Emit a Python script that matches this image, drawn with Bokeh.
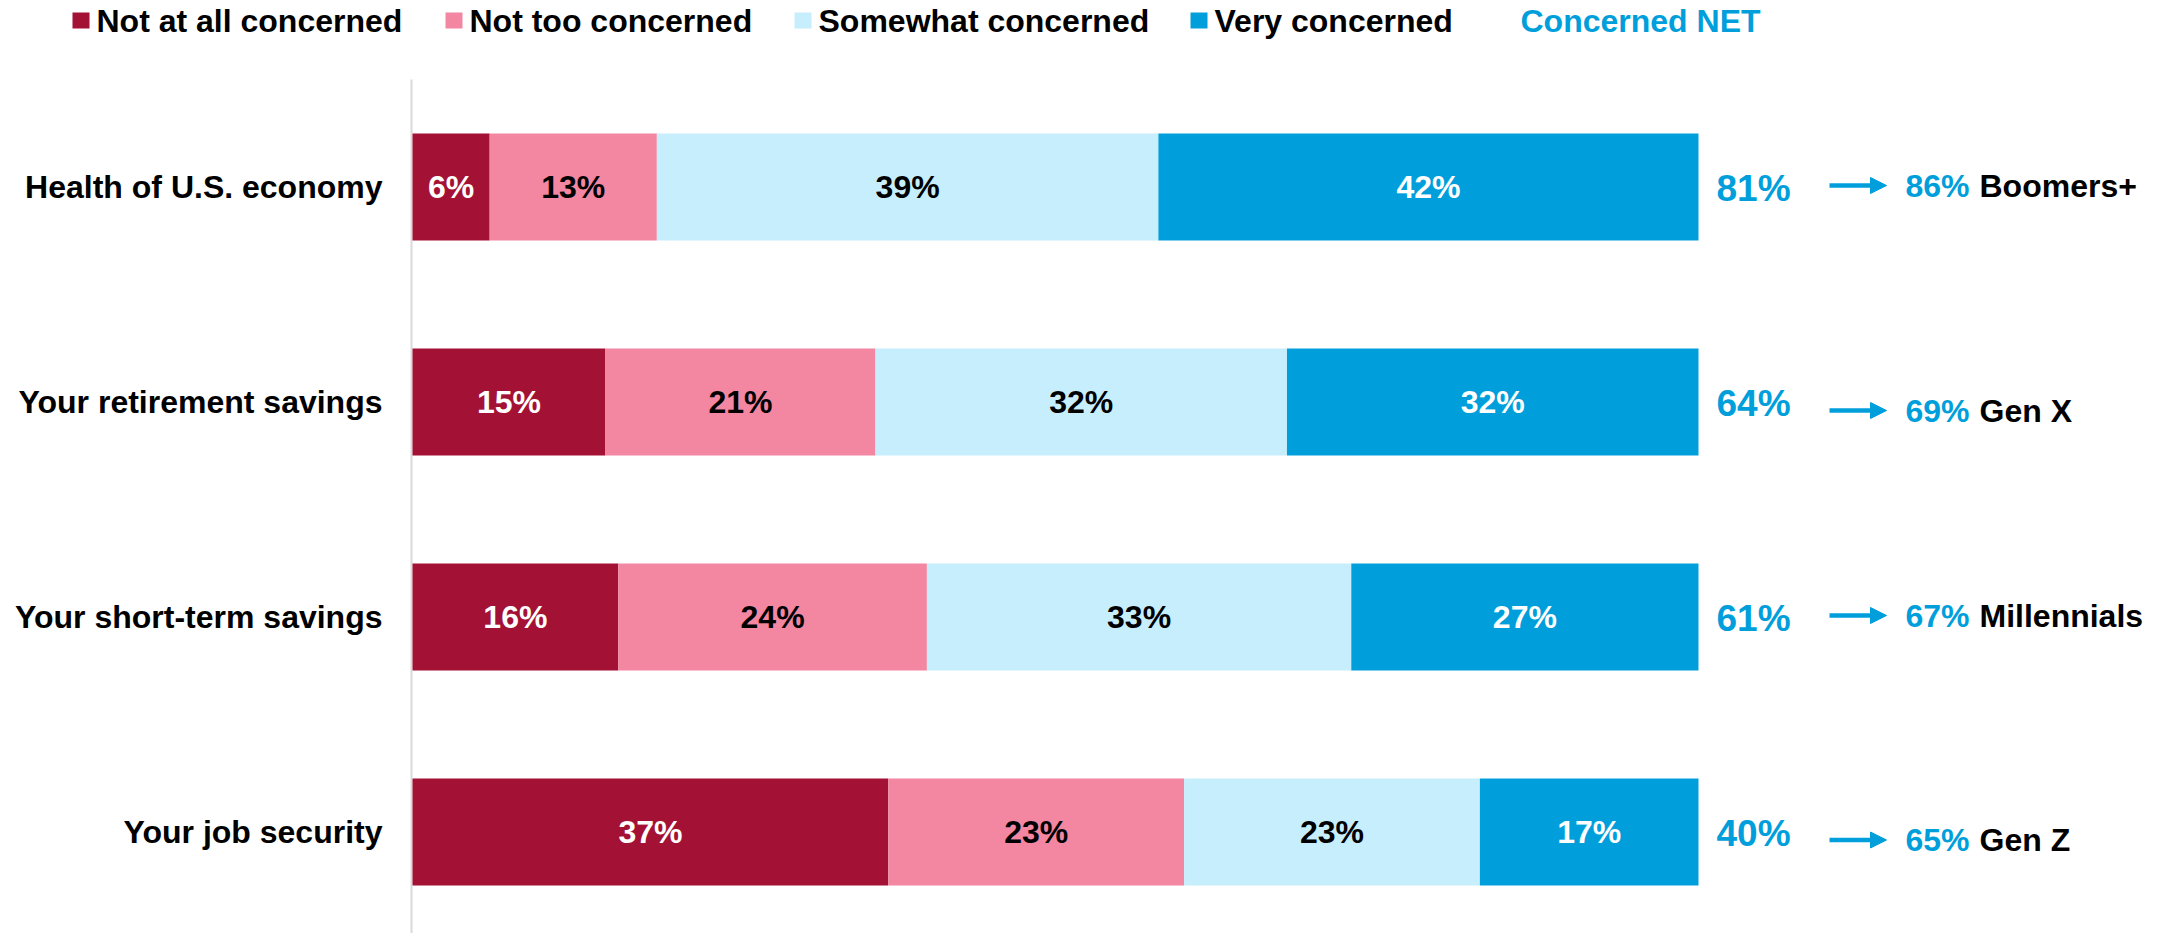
from bokeh.plotting import figure
from bokeh.models import Range1d, ColumnDataSource, Arrow, NormalHead
from bokeh.core.properties import value
from bokeh.embed import file_html
from bokeh.resources import INLINE

# ---------------- data ----------------
categories = ["Health of U.S. economy", "Your retirement savings",
              "Your short-term savings", "Your job security"]
series_names = ["Not at all concerned", "Not too concerned",
                "Somewhat concerned", "Very concerned"]
not_at_all = [6, 15, 16, 37]
not_too = [13, 21, 24, 23]
somewhat = [39, 32, 33, 23]
very = [42, 32, 27, 17]
concerned_net = [81, 64, 61, 40]
generation_net = [86, 69, 67, 65]
generation = ["Boomers+", "Gen X", "Millennials", "Gen Z"]
net_title = "Concerned NET"

# ---------------- style ----------------
colors = ["#A31134", "#F386A1", "#C7EEFC", "#009FDB"]
label_colors = ["white", "black", "black", "white"]
BLUE = "#009FDB"
FONT = value("Liberation Sans")
FS = "32px"

# layout helpers (picture pixels -> data units)
X0, PX_PER_PCT = 412.0, 12.86
Y0, BAND = 79.0, 215.0
W, H = 2170, 933


def xp(px):
    return (px - X0) / PX_PER_PCT


def yp(px):
    return (px - Y0) / BAND


p = figure(width=W, height=H,
           x_range=Range1d(xp(0), xp(W)),
           y_range=Range1d(start=yp(H), end=yp(0)),
           output_backend="svg", toolbar_location=None,
           x_axis_location=None, y_axis_location=None, min_border=0)
p.grid.visible = False
p.outline_line_color = None
p.background_fill_color = "white"

ys = [i + 0.5 for i in range(len(categories))]
series = [not_at_all, not_too, somewhat, very]

# vertical axis line
p.segment(x0=[xp(411)], y0=[0], x1=[xp(411)], y1=[yp(H)],
          line_color="#D9D9D9", line_width=2)

# stacked bars
left = [0] * len(categories)
for k, vals in enumerate(series):
    right = [l + v for l, v in zip(left, vals)]
    src = ColumnDataSource(dict(y=ys, left=left, right=right,
                                mid=[(l + r) / 2 for l, r in zip(left, right)],
                                lab=[f"{v}%" for v in vals]))
    p.hbar(y="y", left="left", right="right", height=0.498, source=src,
           fill_color=colors[k], line_color=None)
    p.text(x="mid", y="y", text="lab", source=src, text_font=FONT,
           text_font_style="bold", text_font_size=FS, text_align="center",
           text_baseline="middle", text_color=label_colors[k])
    left = right

# category labels
p.text(x=[xp(382)] * len(categories), y=ys, text=categories, text_font=FONT,
       text_font_style="bold", text_font_size=FS, text_align="right",
       text_baseline="middle", text_color="black")

# NET values
p.text(x=[xp(1716)] * len(categories), y=[y + 1 / BAND for y in ys],
       text=[f"{v}%" for v in concerned_net], text_font=FONT,
       text_font_style="bold", text_font_size="37px", text_align="left",
       text_baseline="middle", text_color=BLUE)

# arrows + generation values
row_dy = [-1.5, 8.5, -1.5, 8.0]
ay = [y + d / BAND for y, d in zip(ys, row_dy)]
arr_src = ColumnDataSource(dict(xs=[xp(1829)] * len(ay), xe=[xp(1886)] * len(ay),
                                ys=ay, ye=ay))
p.add_layout(Arrow(end=NormalHead(size=16, fill_color=BLUE, line_color=BLUE, line_width=1),
                   x_start="xs", y_start="ys", x_end="xe", y_end="ye",
                   source=arr_src, line_color=BLUE, line_width=4.5))
p.text(x=[xp(1905)] * len(ay), y=ay, text=[f"{v}%" for v in generation_net],
       text_font=FONT, text_font_style="bold", text_font_size=FS,
       text_align="left", text_baseline="middle", text_color=BLUE)
p.text(x=[xp(1979)] * len(ay), y=ay, text=generation,
       text_font=FONT, text_font_style="bold", text_font_size=FS,
       text_align="left", text_baseline="middle", text_color="black")

# legend (manual)
leg_left_px = [72, 445, 794, 1190]
leg_y = yp(20)
p.rect(x=[xp(l + 8.5) for l in leg_left_px], y=[leg_y] * 4, width=17, height=16,
       width_units="screen", height_units="screen", fill_color=colors,
       line_color=None)
p.text(x=[xp(l + 24) for l in leg_left_px], y=[leg_y] * 4, text=series_names,
       text_font=FONT, text_font_style="bold", text_font_size=FS,
       text_align="left", text_baseline="middle", text_color="black")
p.text(x=[xp(1520)], y=[leg_y], text=[net_title], text_font=FONT,
       text_font_style="bold", text_font_size=FS, text_align="left",
       text_baseline="middle", text_color=BLUE)

open("out.html", "w").write(file_html(p, INLINE))
